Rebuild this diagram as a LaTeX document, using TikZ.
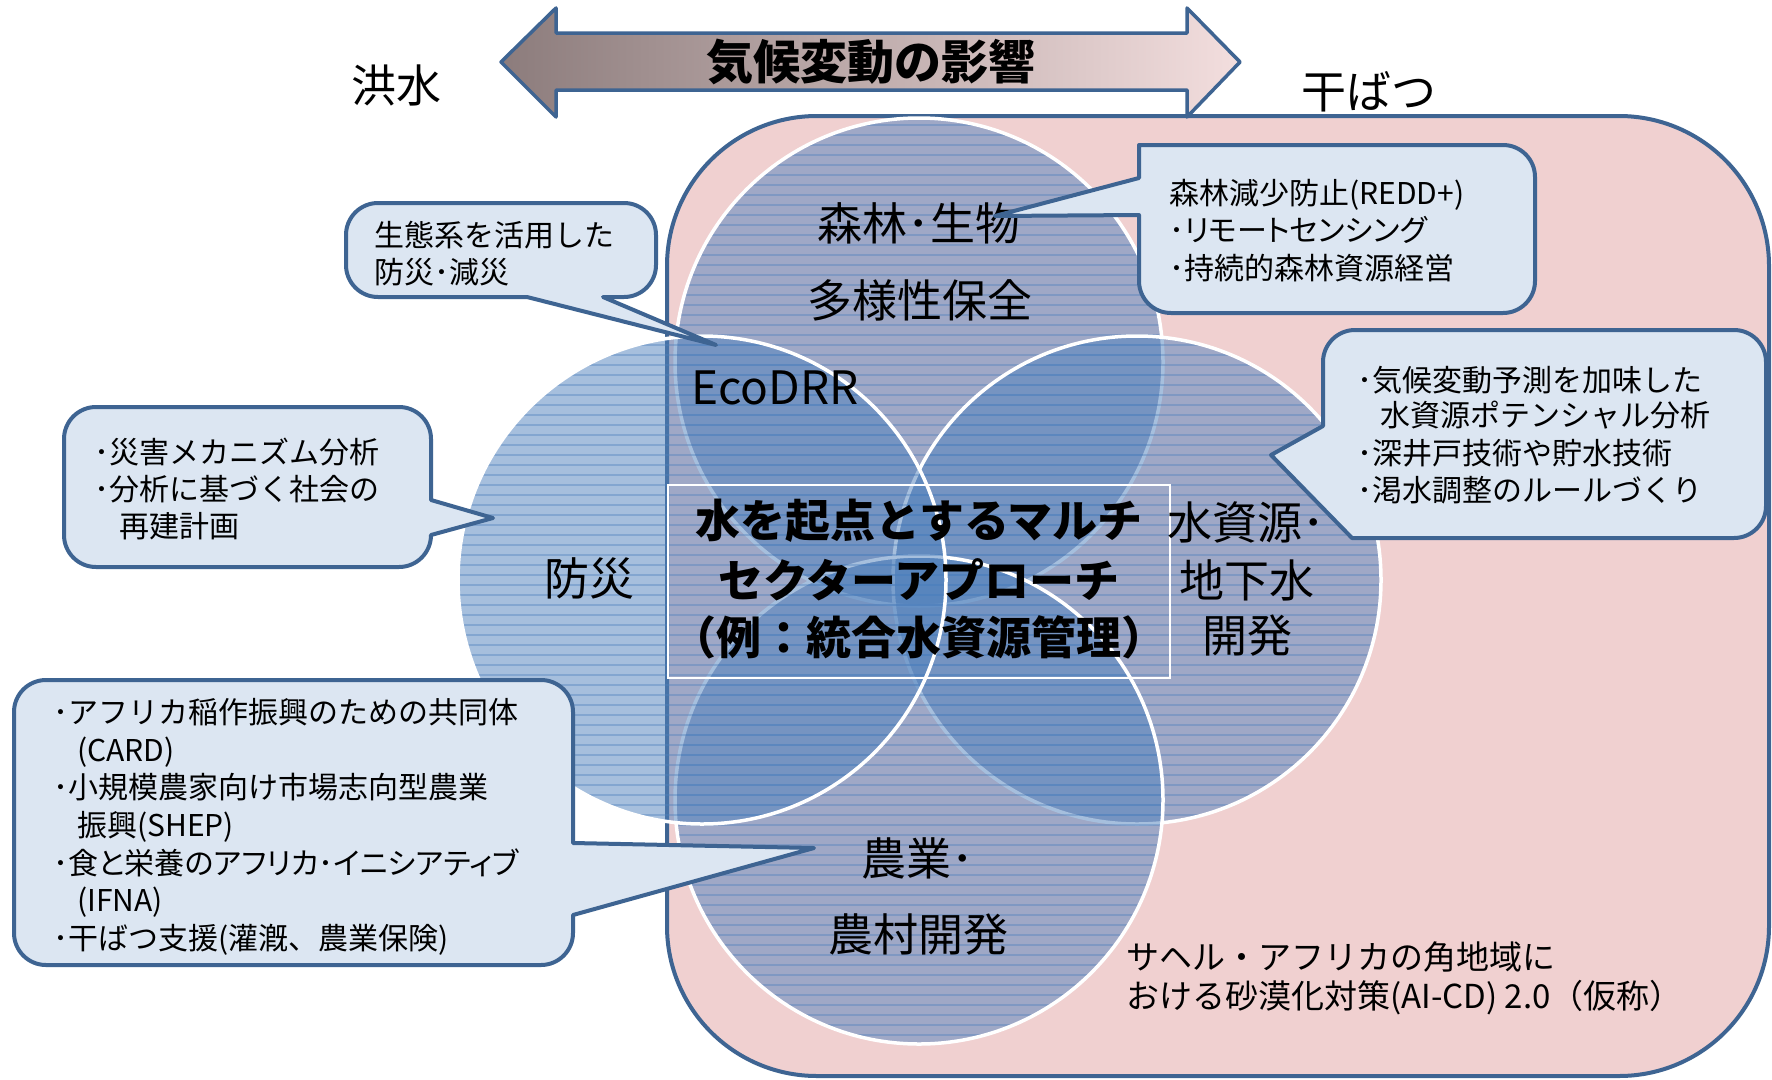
\documentclass[tikz,border=0pt]{standalone}
\usepackage{fontspec}
\setmainfont{Noto Sans CJK JP}
\definecolor{bdr}{RGB}{62,100,146}
\definecolor{pinkbg}{RGB}{240,208,208}
\definecolor{cfill}{RGB}{220,230,242}
\definecolor{cblue}{RGB}{79,129,189}
\definecolor{arrL}{RGB}{140,124,124}
\definecolor{arrR}{RGB}{243,222,222}
\tikzset{
  callout/.style={draw=bdr, fill=cfill, line width=4pt, line join=round},
  vcirc/.style={fill=cblue, fill opacity=0.5},
  vring/.style={draw=white, line width=3.5pt},
  stripe/.style={draw=cblue, line width=1.3pt, draw opacity=0.4},
  cltext/.style={anchor=base west, inner sep=0pt, font=\fontsize{30}{36}\selectfont},
  biglabel/.style={inner sep=0pt, font=\fontsize{45}{52}\selectfont},
  boldlabel/.style={inner sep=0pt, font=\fontsize{45}{52}\selectfont\bfseries},
}
\newcommand\vstripes[1]{%
  \begin{scope}
    \clip (#1) circle[radius=244];
    \draw[stripe] \foreach \yy in {105,115,...,1065} {(440,\yy) -- (1400,\yy)};
  \end{scope}}
\begin{document}
\begin{tikzpicture}[x=1pt,y=-1pt]
\useasboundingbox (0,0) rectangle (1772,1079);
\fill[white] (0,0) rectangle (1772,1079);

% big pink region
\draw[bdr, fill=pinkbg, line width=4pt, rounded corners=150pt] (667,116) rectangle (1769,1076);

% circles
\coordinate (ctop) at (919,362);
\coordinate (cright) at (1137,580);
\coordinate (cbot) at (919,800);
\coordinate (cleft) at (702,580);
\foreach \c in {ctop,cright,cbot,cleft}{
  \fill[vcirc] (\c) circle[radius=244];
  \vstripes{\c}
  \draw[vring] (\c) circle[radius=244];
}

% central box
\node[draw=white, line width=2pt, minimum width=502pt, minimum height=193pt, inner sep=0pt] (cbox) at (919,581.5) {};
\node[boldlabel] (c1) at (919,521) {水を起点とするマルチ};
\node[boldlabel] (c2) at (919,580) {セクターアプローチ};
\node[boldlabel] (c3) at (919,637) {（例：統合水資源管理）};

% circle labels
\node[biglabel] (t1) at (919,223) {森林･生物};
\node[biglabel] (t2) at (920,300) {多様性保全};
\node[inner sep=0pt, font=\fontsize{46}{52}\selectfont] (eco) at (775,388) {EcoDRR};
\node[biglabel] (bousai) at (589,578) {防災};
\node[biglabel, anchor=west] (w1) at (1167,522) {水資源･};
\node[biglabel] (w2) at (1247,580) {地下水};
\node[biglabel] (w3) at (1247,636) {開発};
\node[biglabel, anchor=west] (a1) at (861,858) {農業･};
\node[biglabel] (a2) at (918,934) {農村開発};

% region label
\node[anchor=west, inner sep=0pt, font=\fontsize{33}{40}\selectfont] (s1) at (1126,957) {サヘル・アフリカの角地域に};
\node[anchor=west, inner sep=0pt, font=\fontsize{33}{40}\selectfont] (s2) at (1126,998) {おける砂漠化対策(AI-CD) 2.0（仮称）};

% callouts
\draw[callout] (1139,215) [rounded corners=32pt] -- (1139,313) -- (1535,313) -- (1535,145) [sharp corners] -- (1139,145) -- (1139,178) -- (995,216) -- cycle;
\node[cltext] (k1a) at (1169,204) {森林減少防止(REDD+)};
\node[cltext, font=\fontsize{30}{36}\selectfont\addfontfeature{RawFeature=+palt}] (k1b) at (1169,241) {･リモートセンシング};
\node[cltext] (k1c) at (1169,279) {･持続的森林資源経営};

\draw[callout] (1323,426) [rounded corners=32pt] -- (1323,330) -- (1766,330) -- (1766,538) [sharp corners] -- (1352,538) -- (1271,455) -- cycle;
\node[cltext] (k2a) at (1357,391) {･気候変動予測を加味した};
\node[cltext] (k2b) at (1380,426) {水資源ポテンシャル分析};
\node[cltext] (k2c) at (1357,464) {･深井戸技術や貯水技術};
\node[cltext] (k2d) at (1357,501) {･渇水調整のルールづくり};

\draw[callout] (527,297) [rounded corners=32pt] -- (346,297) -- (346,203) -- (656,203) -- (656,297) [sharp corners] -- (603,297) -- (716,345) -- cycle;
\node[cltext] (k3a) at (374,246) {生態系を活用した};
\node[cltext] (k3b) at (374,283) {防災･減災};

\draw[callout] (431,500) [rounded corners=32pt] -- (431,407) -- (64,407) -- (64,567) -- (431,567) [sharp corners] -- (431,535) -- (493,518) -- cycle;
\node[cltext] (k4a) at (94,463) {･災害メカニズム分析};
\node[cltext] (k4b) at (94,500) {･分析に基づく社会の};
\node[cltext] (k4c) at (119,537) {再建計画};

\draw[callout] (573,843) [rounded corners=32pt] -- (573,680) -- (14,680) -- (14,965) -- (573,965) [sharp corners] -- (573,915) -- (814,848) -- cycle;
\node[cltext] (k5a) at (53,723) {･アフリカ稲作振興のための共同体};
\node[cltext] (k5b) at (77,761) {(CARD)};
\node[cltext] (k5c) at (53,798) {･小規模農家向け市場志向型農業};
\node[cltext] (k5d) at (77,836) {振興(SHEP)};
\node[cltext, font=\fontsize{30}{36}\selectfont\addfontfeature{RawFeature=+palt}] (k5e) at (53,874) {･食と栄養のアフリカ･イニシアティブ};
\node[cltext] (k5f) at (77,911) {(IFNA)};
\node[cltext] (k5g) at (53,949) {･干ばつ支援(灌漑、農業保険)};

% double arrow
\draw[bdr, line width=3.5pt, line join=round, left color=arrL, right color=arrR]
  (501,62) -- (556,8) -- (556,33) -- (1187,33) -- (1187,8) -- (1240,62) -- (1187,117) -- (1187,90) -- (556,90) -- (556,117) -- cycle;
\node[inner sep=0pt, font=\fontsize{47}{52}\selectfont\bfseries] (impact) at (871,62) {気候変動の影響};
\node[biglabel] (flood) at (396,85) {洪水};
\node[biglabel] (drought) at (1369,92) {干ばつ};
\end{tikzpicture}
\end{document}
